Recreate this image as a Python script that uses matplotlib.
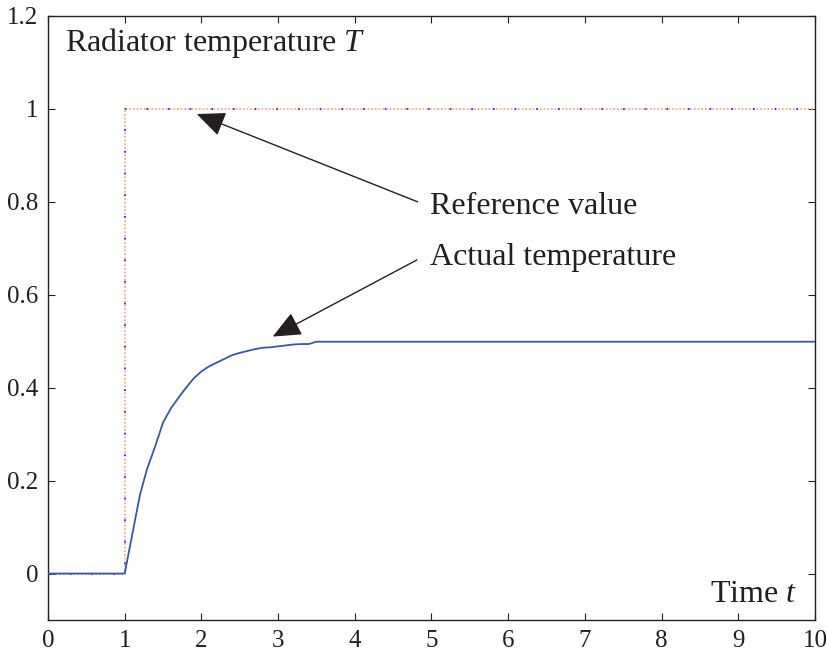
import matplotlib
matplotlib.use("Agg")
import matplotlib.pyplot as plt

plt.rcParams['font.family'] = ['Liberation Serif', 'DejaVu Serif']
plt.rcParams['mathtext.fontset'] = 'custom'
plt.rcParams['mathtext.it'] = 'Liberation Serif:italic'
plt.rcParams['mathtext.rm'] = 'Liberation Serif'

# Data
ref_t = [0, 1, 1, 10]
ref_v = [0, 0, 1, 1]
act_t = [0, 1.0, 1.1, 1.2, 1.29, 1.4, 1.5, 1.6, 1.7, 1.8, 1.9, 2.0, 2.1, 2.2,
         2.3, 2.4, 2.5, 2.6, 2.7, 2.8, 2.9, 3.0, 3.1, 3.2, 3.3, 3.4, 3.5, 10]
act_v = [0, 0, 0.085, 0.17, 0.224, 0.275, 0.325, 0.355, 0.378, 0.400, 0.420,
         0.435, 0.446, 0.454, 0.462, 0.470, 0.475, 0.479, 0.483, 0.486, 0.487,
         0.489, 0.491, 0.493, 0.494, 0.494, 0.499, 0.499]
xticks = list(range(0, 11))
yticks = [0, 0.2, 0.4, 0.6, 0.8, 1.0]
ytick_labels = ['0', '0.2', '0.4', '0.6', '0.8', '1', '1.2']

ink = '#231f20'
fig = plt.figure(figsize=(8.27, 6.53), dpi=100)
ax = fig.add_axes([0.058, 0.0505, 0.9275, 0.925])

ax.plot(ref_t, ref_v, linestyle=(0, (1, 1.2)), color='#f4a07a', lw=1.2, zorder=2)
ax.plot(ref_t, ref_v, linestyle=(0, (1, 12)), color='#1a1aff', lw=1.2, zorder=3)
ax.plot(act_t, act_v, color='#3559a8', lw=1.3, zorder=4)

ax.set_xlim(0, 10)
ax.set_ylim(-0.1, 1.2)
ax.set_xticks(xticks)
ax.set_yticks(yticks + [1.2])
ax.set_yticklabels(ytick_labels)
ax.tick_params(direction='in', length=5, width=0.8, top=True, right=True,
               labelsize=18, colors=ink, pad=7)
for s in ax.spines.values():
    s.set_linewidth(1.0)
    s.set_color(ink)

fs = 23
ax.text(0.22, 1.142, 'Radiator temperature $T$', fontsize=fs, color=ink,
        ha='left', va='center')
ax.text(9.77, -0.045, 'Time $t$', fontsize=fs, color=ink, ha='right', va='center')

arrow = dict(arrowstyle='-|>,head_length=0.8,head_width=0.35', mutation_scale=22,
             lw=1.0, color=ink, shrinkA=0, shrinkB=0)
ax.annotate('', xy=(1.94, 0.989), xytext=(4.82, 0.80), arrowprops=arrow)
ax.annotate('', xy=(2.93, 0.51), xytext=(4.81, 0.675), arrowprops=arrow)
ax.text(4.98, 0.789, 'Reference value', fontsize=fs, color=ink, ha='left', va='center')
ax.text(4.98, 0.68, 'Actual temperature', fontsize=fs, color=ink, ha='left', va='center')

fig.savefig('out.png', dpi=100)
